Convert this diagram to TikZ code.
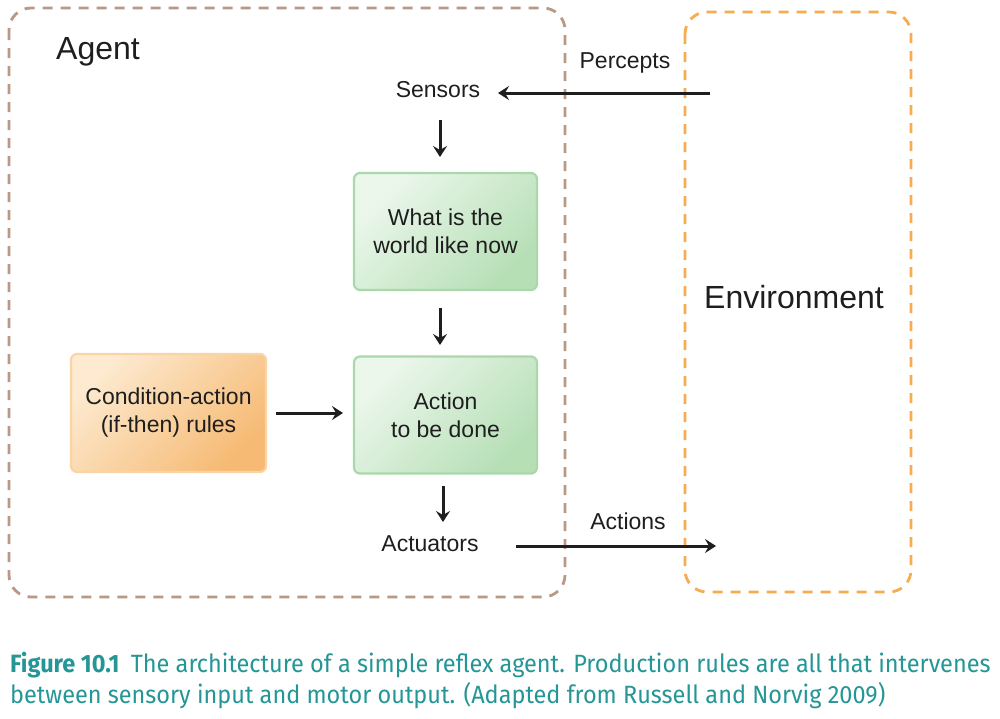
\documentclass[tikz,border=0pt]{standalone}
\usepackage{fontspec}
\setmainfont{Liberation Sans}
\newfontfamily\capfont[FakeStretch=0.94]{Fira Sans}
\usetikzlibrary{arrows.meta}
\definecolor{agentc}{RGB}{186,152,136}
\definecolor{envc}{RGB}{247,172,82}
\definecolor{greenb}{RGB}{170,216,170}
\definecolor{greenl}{RGB}{236,247,236}
\definecolor{greend}{RGB}{182,223,182}
\definecolor{orb}{RGB}{250,212,164}
\definecolor{orl}{RGB}{253,234,208}
\definecolor{ord}{RGB}{246,186,116}
\definecolor{teal}{RGB}{36,150,150}
\definecolor{txt}{RGB}{30,30,30}
\tikzset{
  region/.style={dashed, dash pattern=on 10pt off 8pt, line width=2.8pt, rounded corners=22pt},
  gbox/.style={draw=greenb, line width=2.2pt, rounded corners=6pt, left color=greenl, right color=greend, shading angle=45, minimum width=183pt, minimum height=117pt, align=center, text=txt, font=\fontsize{23}{28}\selectfont},
  obox/.style={draw=orb, line width=2.2pt, rounded corners=6pt, top color=orl, bottom color=ord, shading angle=45, minimum width=195pt, minimum height=118pt, align=center, text=txt, font=\fontsize{23}{28}\selectfont},
  lbl/.style={font=\fontsize{23}{27}\selectfont, inner sep=0pt, text=txt},
  arr/.style={line width=3pt, -{Stealth[length=11pt,width=14pt,inset=4pt]}, color=txt},
}
\begin{document}
\begin{tikzpicture}[x=1pt,y=-1pt]
\useasboundingbox (0,0) rectangle (1000,718);
\fill[white] (0,0) rectangle (1000,718);
\draw[region, draw=agentc] (9,8) rectangle (565,597);
\draw[region, draw=envc] (685,12) rectangle (911,592);
\node[font=\fontsize{32}{36}\selectfont, anchor=west, inner sep=0pt, text=txt] (agent) at (56,52) {Agent};
\node[font=\fontsize{32}{36}\selectfont, inner sep=0pt, text=txt] (env) at (794,297) {Environment};
\node[lbl] (sensors) at (438,90) {Sensors};
\node[lbl] (percepts) at (625,63) {Percepts};
\coordinate (pin) at (710,93);
\coordinate (pout) at (498,93);
\node[gbox] (world) at (445.5,231.5) {What is the\\world like now};
\node[gbox] (action) at (445.5,415) {Action\\to be done};
\node[obox] (rules) at (168.5,413) {Condition-action\\(if-then) rules};
\node[lbl] (actuators) at (430,544) {Actuators};
\node[lbl] (actions) at (628,521) {Actions};
\coordinate (aout) at (716,546);
\draw[arr] (pin) -- (pout);
\draw[arr] (440,120) -- (440,157);
\draw[arr] (440,308) -- (440,345);
\draw[arr] (276,413) -- (343,413);
\draw[arr] (443,486) -- (443,522);
\draw[arr] (516,546) -- (aout);
\node[anchor=base west, inner sep=0pt, text=teal, font=\capfont\fontsize{25}{31}\selectfont] (cap1) at (10,672) {\textbf{Figure 10.1}\hspace{0.45em}The architecture of a simple reflex agent. Production rules are all that intervenes};
\node[anchor=base west, inner sep=0pt, text=teal, font=\capfont\fontsize{25}{31}\selectfont] (cap2) at (10,703) {between sensory input and motor output. (Adapted from Russell and Norvig 2009)};
\end{tikzpicture}
\end{document}
